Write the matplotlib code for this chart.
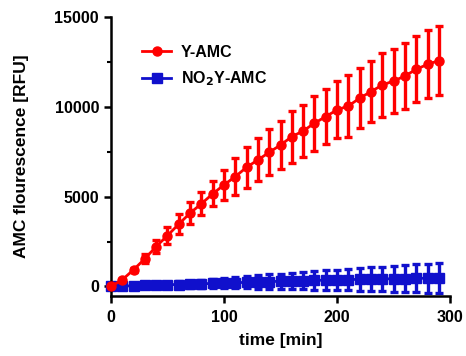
import matplotlib
matplotlib.use('Agg')
import matplotlib.pyplot as plt
from matplotlib.ticker import MultipleLocator
from matplotlib.lines import Line2D

plt.rcParams['font.family'] = ['Liberation Sans', 'DejaVu Sans']
plt.rcParams['font.weight'] = 'bold'

# Time points (min)
time_min = [0, 10, 20, 30, 40, 50, 60, 70, 80, 90,
            100, 110, 120, 130, 140, 150, 160, 170, 180, 190,
            200, 210, 220, 230, 240, 250, 260, 270, 280, 290]

# Y-AMC fluorescence and SD
y_amc = [0, 370, 930, 1540, 2220, 2830, 3470, 4080, 4600, 5150,
         5650, 6110, 6630, 7040, 7460, 7870, 8330, 8650, 9080, 9450,
         9820, 10040, 10470, 10840, 11200, 11430, 11700, 12080, 12350, 12560]
y_amc_sd = [0, 60, 120, 250, 380, 470, 560, 620, 650, 700,
            850, 1050, 1150, 1200, 1270, 1340, 1450, 1450, 1530, 1530,
            1580, 1700, 1680, 1720, 1800, 1780, 1830, 1830, 1890, 1900]

# NO2Y-AMC fluorescence and SD
no2_amc = [0, 20, 40, 60, 80, 100, 110, 130, 150, 170,
           190, 210, 230, 250, 270, 290, 300, 320, 340, 350,
           370, 380, 400, 410, 420, 430, 440, 450, 460, 470]
no2_amc_sd = [0, 25, 50, 80, 110, 140, 170, 200, 230, 260,
              280, 310, 340, 370, 400, 420, 450, 480, 510, 540,
              560, 600, 630, 660, 690, 720, 750, 780, 800, 830]

red = '#ff0000'
blue = '#1010cc'

fig = plt.figure(figsize=(4.66, 3.56), dpi=100)
ax = fig.add_axes([0.238, 0.169, 0.728, 0.784])

ax.errorbar(time_min, no2_amc, yerr=no2_amc_sd, color=blue, marker='s',
            markersize=6.5, linewidth=2, elinewidth=2.4, capsize=3.2, capthick=2.4,
            clip_on=False, zorder=2)
ax.errorbar(time_min, y_amc, yerr=y_amc_sd, color=red, marker='o',
            markersize=6.5, linewidth=2, elinewidth=2.4, capsize=3.2, capthick=2.4,
            clip_on=False, zorder=3)

ax.set_xlim(0, 300)
ax.set_ylim(-520, 15000)
ax.xaxis.set_major_locator(MultipleLocator(100))
ax.yaxis.set_major_locator(MultipleLocator(5000))
ax.yaxis.set_minor_locator(MultipleLocator(2500))

for side in ['top', 'right']:
    ax.spines[side].set_visible(False)
for side in ['left', 'bottom']:
    ax.spines[side].set_linewidth(1.8)

ax.tick_params(which='major', direction='out', length=5, width=1.8, labelsize=11.5)
ax.tick_params(axis='x', which='major', pad=5)
ax.tick_params(which='minor', direction='out', length=3, width=1.5)

ax.set_xlabel('time [min]', fontsize=12.5, fontweight='bold', labelpad=6)
ax.set_ylabel('AMC flourescence [RFU]', fontsize=12.5, fontweight='bold', labelpad=18)

# legend shows only line + marker (no error bars)
legend_handles = [
    Line2D([], [], color=red, marker='o', markersize=6.5, linewidth=2),
    Line2D([], [], color=blue, marker='s', markersize=6.5, linewidth=2),
]
ax.legend(legend_handles, ['Y-AMC', 'NO$_2$Y-AMC'], loc='upper left',
          bbox_to_anchor=(0.05, 0.95), frameon=False, fontsize=11.5,
          handlelength=1.8, handletextpad=0.6, labelspacing=0.6)

fig.savefig('out.png', dpi=100)
